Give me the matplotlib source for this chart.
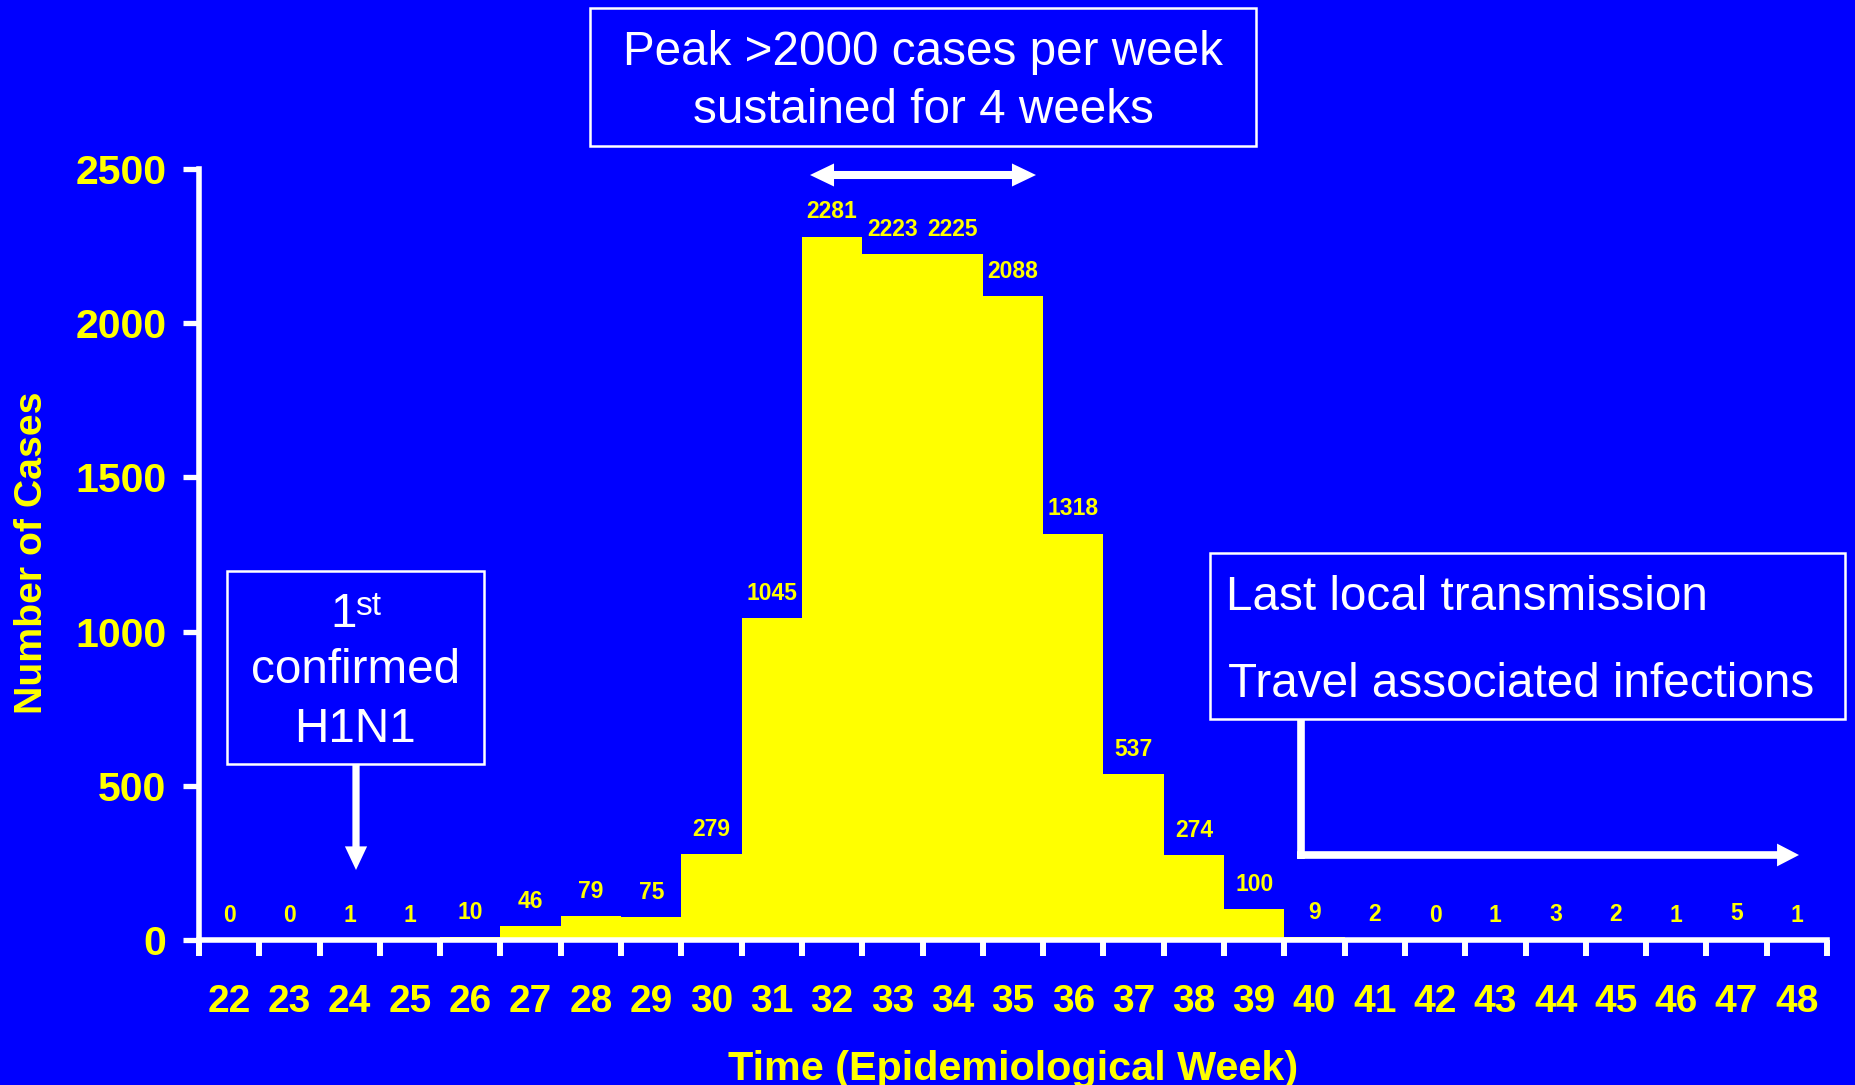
import matplotlib
matplotlib.use("Agg")
import matplotlib.pyplot as plt
import matplotlib.transforms as mtransforms
from matplotlib.patches import Rectangle, FancyArrowPatch, ArrowStyle
from matplotlib.ticker import FixedLocator, NullFormatter

# Weekly confirmed cases by epidemiological week
weeks = list(range(22, 49))
cases = [0, 0, 1, 1, 10, 46, 79, 75, 279, 1045, 2281, 2223, 2225, 2088,
         1318, 537, 274, 100, 9, 2, 0, 1, 3, 2, 1, 5, 1]
y_ticks = [0, 500, 1000, 1500, 2000, 2500]

BLUE = "#0000FF"
YELLOW = "#FFFF00"
WHITE = "#FFFFFF"
FONT = "Liberation Sans"

W, H = 1856, 1085
fig = plt.figure(figsize=(W / 100, H / 100), dpi=100, facecolor=BLUE)

# pixel helper (origin at top-left of the figure)
px = mtransforms.Affine2D().scale(1 / W, -1 / H).translate(0, 1) + fig.transFigure

ax = fig.add_axes([199 / W, (H - 940) / H, 1628 / W, 771 / H])
ax.set_facecolor(BLUE)

ax.bar(weeks, cases, width=1.0, color=YELLOW, edgecolor="none", zorder=1)

for w, c in zip(weeks, cases):
    ax.annotate(str(c), xy=(w, c), xytext=(0, 13.0), textcoords="offset points",
                ha="center", va="baseline", color=YELLOW, fontsize=16.5,
                fontweight="bold", family=FONT, annotation_clip=False)

ax.set_xlim(weeks[0] - 0.5, weeks[-1] + 0.5)
ax.set_ylim(0, 2500)

for side in ("top", "right"):
    ax.spines[side].set_visible(False)
for side in ("left", "bottom"):
    ax.spines[side].set_color(WHITE)
    ax.spines[side].set_linewidth(4)
    ax.spines[side].set_capstyle("projecting")

ax.set_xticks(weeks)
ax.set_xticklabels([str(w) for w in weeks])
ax.xaxis.set_minor_locator(FixedLocator([w - 0.5 for w in weeks] + [weeks[-1] + 0.5]))
ax.xaxis.set_minor_formatter(NullFormatter())
ax.tick_params(axis="x", which="major", length=0, pad=32, labelsize=28,
               labelcolor=YELLOW)
ax.tick_params(axis="x", which="minor", length=11.5, width=4.3, color=WHITE,
               direction="out")
ax.set_yticks(y_ticks)
ax.tick_params(axis="y", which="major", length=11.5, width=3.8, color=WHITE,
               direction="out", pad=12, labelsize=29.5, labelcolor=YELLOW)
for lab in ax.get_xticklabels() + ax.get_yticklabels():
    lab.set_fontweight("bold")
    lab.set_family(FONT)

fig.text(32, 553, "Number of Cases", transform=px, rotation=90, ha="center",
         va="center", color=YELLOW, fontsize=28.3, fontweight="bold", family=FONT)
fig.text(1013, 1079.5, "Time (Epidemiological Week)", transform=px, ha="center",
         va="baseline", color=YELLOW, fontsize=29.8, fontweight="bold", family=FONT)


def box(x0, y0, x1, y1):
    fig.patches.append(Rectangle((x0, y1), x1 - x0, y0 - y1, transform=px,
                                 facecolor="none", edgecolor=WHITE, linewidth=1.8))


def arrow(p0, p1, tail, hl, hw):
    style = ArrowStyle("Simple", head_length=hl, head_width=hw, tail_width=tail)
    fig.patches.append(FancyArrowPatch(p0, p1, transform=px, arrowstyle=style,
                                       shrinkA=0, shrinkB=0, color=WHITE,
                                       linewidth=0, mutation_scale=1))


BOX_FS = 34.3
txt = dict(color=WHITE, fontsize=BOX_FS, family=FONT, transform=px)

# Peak annotation
box(590, 8, 1256, 146)
fig.text(923, 65, "Peak >2000 cases per week", ha="center", va="baseline", **txt)
fig.text(923, 123, "sustained for 4 weeks", ha="center", va="baseline", **txt)
arrow((923, 175), (810, 175), 5.8, 17.3, 16.6)
arrow((923, 175), (1036, 175), 5.8, 17.3, 16.6)

# First confirmed case
box(227, 571, 484, 764)
fig.text(330, 627, "1", ha="left", va="baseline", **txt)
fig.text(355, 615, "st", ha="left", va="baseline", color=WHITE, fontsize=24,
         family=FONT, transform=px)
fig.text(355.5, 683, "confirmed", ha="center", va="baseline", **txt)
fig.text(355.5, 742, "H1N1", ha="center", va="baseline", **txt)
arrow((356, 765), (356, 870), 5.2, 17, 16)

# Last local transmission
box(1210, 553, 1845, 719)
fig.text(1226, 610, "Last local transmission", ha="left", va="baseline", **txt)
fig.text(1228, 697, "Travel associated infections", ha="left", va="baseline", **txt)
fig.lines.append(plt.Line2D([1301, 1301], [719, 859], transform=px, color=WHITE,
                            linewidth=5.5, solid_capstyle="butt"))
arrow((1297, 855), (1799, 855), 5.5, 15.8, 16.4)

fig.savefig("out.png", dpi=100, facecolor=BLUE)
